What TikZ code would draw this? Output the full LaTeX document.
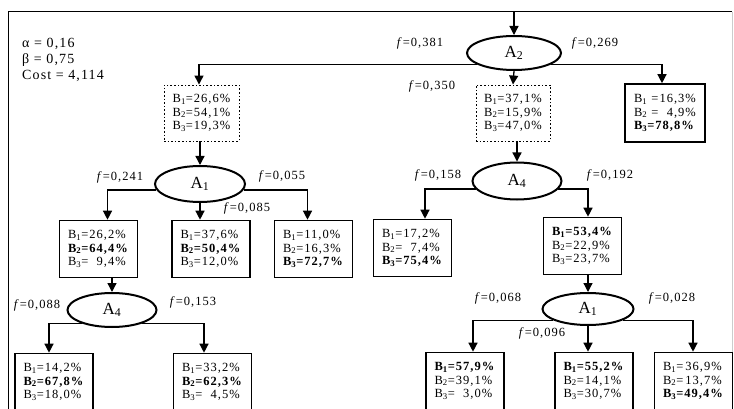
\documentclass[tikz,border=0pt]{standalone}
\usepackage{fontspec}
\setmainfont{Liberation Serif}[LetterSpace=8]
\usetikzlibrary{arrows.meta,calc,shapes.geometric}
\newcommand{\Bl}[2]{B\textsubscript{#1}=#2}
\newcommand{\Fl}[1]{\textit{f}=#1}
\begin{document}
\begin{tikzpicture}[x=1pt,y=-1pt,
  arr/.style={line width=1.3pt,-{Triangle[width=9pt,length=9pt]}},
  box/.style={draw,line width=1.6pt,minimum width=78pt,minimum height=57pt,inner sep=1pt,align=left,font=\fontsize{12.5}{13.8}\selectfont},
  dbox/.style={box,dotted,line width=0.9pt},
  ell/.style={draw,ellipse,line width=2pt,inner sep=0pt,font=\fontsize{17}{17}\selectfont},
  lab/.style={font=\fontsize{12.5}{13}\selectfont,inner sep=0pt},
  par/.style={font=\fontsize{14}{14}\selectfont,inner sep=0pt,anchor=west},
]
\useasboundingbox (0,0) rectangle (734,409);
% frame
\draw[line width=1pt] (732,12) -- (8,12) -- (8,409);
\draw[line width=0.6pt,gray!40] (732,12) -- (732,409);
\coordinate (top) at (514,12);

% parameters
\node[par] (alpha) at (22,44) {α = 0,16};
\node[par] (beta) at (22,60) {β = 0,75};
\node[par] (cost) at (22,76) {Cost = 4,114};

% ellipses
\node[ell,minimum width=94pt,minimum height=34pt] (A2) at (514,53) {A\textsubscript{2}};
\node[ell,minimum width=90pt,minimum height=36pt] (A1a) at (200,184) {A\textsubscript{1}};
\node[ell,minimum width=89pt,minimum height=34pt] (A4a) at (112,310) {A\textsubscript{4}};
\node[ell,minimum width=89pt,minimum height=37pt] (A4b) at (517,181) {A\textsubscript{4}};
\node[ell,minimum width=91pt,minimum height=32pt] (A1b) at (588,309) {A\textsubscript{1}};

% boxes
\node[dbox,minimum width=75pt,minimum height=56pt] (D1) at (201.5,113) {\Bl{1}{26,6\%}\\\Bl{2}{54,1\%}\\\Bl{3}{19,3\%}};
\node[dbox,minimum width=74pt,minimum height=56pt] (D2) at (513,113) {\Bl{1}{37,1\%}\\\Bl{2}{15,9\%}\\\Bl{3}{47,0\%}};
\node[box,minimum width=80pt,minimum height=58pt] (R0) at (665,113) {B\textsubscript{1} =16,3\%\\B\textsubscript{2} =\phantom{0}\,4,9\%\\\textbf{\Bl{3}{78,8\%}}};

\node[box] (L1) at (98.5,249) {\Bl{1}{26,2\%}\\\textbf{\Bl{2}{64,4\%}}\\\Bl{3}{\phantom{0}\,9,4\%}};
\node[box] (L2) at (211,249) {\Bl{1}{37,6\%}\\\textbf{\Bl{2}{50,4\%}}\\\Bl{3}{12,0\%}};
\node[box] (L3) at (313.5,249) {\Bl{1}{11,0\%}\\\Bl{2}{16,3\%}\\\textbf{\Bl{3}{72,7\%}}};

\node[box] (LL1) at (54,382) {\Bl{1}{14,2\%}\\\textbf{\Bl{2}{67,8\%}}\\\Bl{3}{18,0\%}};
\node[box] (LL2) at (212.5,382) {\Bl{1}{33,2\%}\\\textbf{\Bl{2}{62,3\%}}\\\Bl{3}{\phantom{0}\,4,5\%}};

\node[box] (RR1) at (412.5,248) {\Bl{1}{17,2\%}\\\Bl{2}{\phantom{0}\,7,4\%}\\\textbf{\Bl{3}{75,4\%}}};
\node[box] (RR2) at (582.5,246) {\textbf{\Bl{1}{53,4\%}}\\\Bl{2}{22,9\%}\\\Bl{3}{23,7\%}};

\node[box] (RB1) at (465,381) {\textbf{\Bl{1}{57,9\%}}\\\Bl{2}{39,1\%}\\\Bl{3}{\phantom{0}\,3,0\%}};
\node[box] (RB2) at (594,381) {\textbf{\Bl{1}{55,2\%}}\\\Bl{2}{14,1\%}\\\Bl{3}{30,7\%}};
\node[box] (RB3) at (693.5,381) {\Bl{1}{\,36,9\%}\\\Bl{2}{\,13,7\%}\\\textbf{\Bl{3}{49,4\%}}};

% labels
\node[lab] (f381) at (420,43) {\Fl{0,381}};
\node[lab] (f269) at (595,43) {\Fl{0,269}};
\node[lab] (f350) at (432,86) {\Fl{0,350}};
\node[lab] (f241) at (120,177) {\Fl{0,241}};
\node[lab] (f055) at (282,176) {\Fl{0,055}};
\node[lab] (f085) at (247,208) {\Fl{0,085}};
\node[lab] (f088) at (37,305) {\Fl{0,088}};
\node[lab] (f153) at (193,302) {\Fl{0,153}};
\node[lab] (f158) at (438,175) {\Fl{0,158}};
\node[lab] (f192) at (610,175) {\Fl{0,192}};
\node[lab] (f068) at (498,298) {\Fl{0,068}};
\node[lab] (f028) at (672,298) {\Fl{0,028}};
\node[lab] (f096) at (542,333) {\Fl{0,096}};

% connectors
\draw[arr] (top) -- (A2.north);
\draw[arr] (A2.197) -| ([xshift=-2.5pt]D1.north);
\draw[arr] (A2.-17) -| ([xshift=-3pt]R0.north);
\draw[arr] (A2.south) -- (D2.north);
\draw[arr] (D1.south -| A1a.north) -- (A1a.north);
\draw[arr] (D2.south -| A4b.north) -- (A4b.north);

\draw[arr] (A1a.188) -| ([xshift=9pt]L1.north);
\draw[arr] (A1a.south) -- (A1a.south |- L2.north);
\draw[arr] (A1a.-8) -| ([xshift=-6pt]L3.north);

\draw[arr] (A4a.north |- L1.south) -- (A4a.north);
\draw[arr] (A4a.204) -| ([xshift=-5pt]LL1.north);
\draw[arr] (A4a.-24) -| ([xshift=-8.5pt]LL2.north);

\draw[arr] (A4b.191) -| ([xshift=12.5pt]RR1.north);
\draw[arr] (A4b.-11) -| ([xshift=5.5pt]RR2.north);

\draw[arr] (A1b.north |- RR2.south) -- (A1b.north);
\draw[arr] (A1b.198) -| ([xshift=8pt]RB1.north);
\draw[arr] (A1b.south) -- (A1b.south |- RB2.north);
\draw[arr] (A1b.-18) -| ([xshift=-0.5pt]RB3.north);
\end{tikzpicture}
\end{document}
